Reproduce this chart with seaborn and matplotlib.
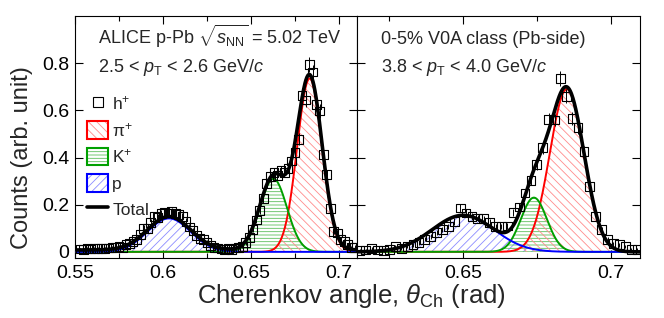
import numpy as np
import matplotlib
matplotlib.use("Agg")
import matplotlib.pyplot as plt
import seaborn as sns
from matplotlib.patches import Patch
from matplotlib.lines import Line2D
from matplotlib.ticker import MultipleLocator

# ---------------- data ----------------
left_x = [0.553, 0.555, 0.557, 0.559, 0.561, 0.563, 0.565, 0.567, 0.569, 0.571,
          0.573, 0.575, 0.577, 0.579, 0.581, 0.583, 0.585, 0.587, 0.589, 0.591,
          0.593, 0.595, 0.597, 0.599, 0.601, 0.603, 0.605, 0.607, 0.609, 0.611,
          0.613, 0.615, 0.617, 0.619, 0.621, 0.623, 0.625, 0.627, 0.629, 0.631,
          0.633, 0.635, 0.637, 0.639, 0.641, 0.643, 0.645, 0.647, 0.649, 0.651,
          0.653, 0.655, 0.657, 0.659, 0.661, 0.663, 0.665, 0.667, 0.669, 0.671,
          0.673, 0.675, 0.677, 0.679, 0.681, 0.683, 0.685, 0.687, 0.689, 0.691,
          0.693, 0.695, 0.697, 0.699, 0.701, 0.703, 0.705, 0.707, 0.709]
left_y = [0.012, 0.011, 0.013, 0.012, 0.014, 0.013, 0.015, 0.014, 0.016, 0.018,
          0.017, 0.022, 0.020, 0.030, 0.035, 0.045, 0.052, 0.072, 0.100, 0.098,
          0.125, 0.150, 0.145, 0.162, 0.168, 0.165, 0.170, 0.163, 0.158, 0.150,
          0.130, 0.105, 0.090, 0.070, 0.058, 0.052, 0.040, 0.028, 0.020, 0.016,
          0.012, 0.010, 0.014, 0.009, 0.016, 0.018, 0.024, 0.040, 0.062, 0.095,
          0.135, 0.175, 0.225, 0.290, 0.318, 0.335, 0.325, 0.345, 0.338, 0.355,
          0.385, 0.420, 0.477, 0.664, 0.644, 0.796, 0.763, 0.625, 0.597, 0.413,
          0.328, 0.183, 0.086, 0.080, 0.052, 0.044, 0.030, 0.017, 0.020]
left_err = [0.006, 0.006, 0.006, 0.006, 0.006, 0.006, 0.006, 0.006, 0.006, 0.006,
            0.006, 0.007, 0.007, 0.008, 0.008, 0.009, 0.010, 0.010, 0.012, 0.012,
            0.013, 0.014, 0.014, 0.015, 0.015, 0.015, 0.015, 0.015, 0.015, 0.014,
            0.013, 0.012, 0.011, 0.010, 0.010, 0.010, 0.009, 0.008, 0.007, 0.006,
            0.006, 0.006, 0.006, 0.006, 0.006, 0.006, 0.007, 0.009, 0.010, 0.012,
            0.013, 0.015, 0.017, 0.019, 0.020, 0.021, 0.020, 0.021, 0.021, 0.021,
            0.022, 0.023, 0.025, 0.029, 0.029, 0.032, 0.031, 0.028, 0.028, 0.023,
            0.020, 0.015, 0.011, 0.011, 0.010, 0.009, 0.008, 0.006, 0.007]

right_x = [0.615, 0.617, 0.619, 0.621, 0.623, 0.625, 0.627, 0.629, 0.631, 0.633,
           0.635, 0.637, 0.639, 0.641, 0.643, 0.645, 0.647, 0.649, 0.651, 0.653,
           0.655, 0.657, 0.659, 0.661, 0.663, 0.665, 0.667, 0.669, 0.671, 0.673,
           0.675, 0.677, 0.679, 0.681, 0.683, 0.685, 0.687, 0.689, 0.691, 0.693,
           0.695, 0.697, 0.699, 0.701, 0.703, 0.705, 0.707, 0.709]
right_y = [0.005, 0.008, 0.015, 0.008, 0.005, 0.010, 0.023, 0.015, 0.023, 0.030,
           0.040, 0.054, 0.065, 0.082, 0.095, 0.108, 0.129, 0.186, 0.165, 0.150,
           0.143, 0.140, 0.125, 0.108, 0.108, 0.110, 0.167, 0.190, 0.250, 0.302,
           0.370, 0.441, 0.562, 0.559, 0.735, 0.660, 0.565, 0.526, 0.427, 0.278,
           0.150, 0.094, 0.051, 0.034, 0.030, 0.023, 0.011, 0.011]
right_err = [0.006, 0.006, 0.006, 0.006, 0.006, 0.006, 0.007, 0.006, 0.007, 0.008,
             0.009, 0.010, 0.010, 0.011, 0.012, 0.012, 0.013, 0.015, 0.015, 0.014,
             0.014, 0.014, 0.013, 0.012, 0.012, 0.012, 0.015, 0.016, 0.018, 0.020,
             0.022, 0.024, 0.027, 0.027, 0.031, 0.029, 0.027, 0.026, 0.023, 0.019,
             0.014, 0.011, 0.010, 0.008, 0.008, 0.007, 0.006, 0.006]

# Gaussian fit parameters per species: p, K+, pi+
species = ["p", "K$^{+}$", "\u03c0$^{+}$"]
left_amp = [0.142, 0.310, 0.735]
left_mean = [0.6034, 0.6627, 0.6833]
left_sigma = [0.0122, 0.0077, 0.0071]
left_bkg = 0.008
right_amp = [0.155, 0.230, 0.690]
right_mean = [0.6500, 0.6740, 0.6852]
right_sigma = [0.0105, 0.0044, 0.0058]
right_bkg = 0.0

left_xlim = (0.5508, 0.7102)
right_xlim = (0.6140, 0.7100)
y_ticks = [0, 0.2, 0.4, 0.6, 0.8]
y_ticklabels = ["0", "0.2", "0.4", "0.6", "0.8"]
left_xticks = [0.55, 0.6, 0.65, 0.7]
left_xticklabels = ["0.55", "0.6", "0.65", "0.7"]
right_xticks = [0.65, 0.7]
right_xticklabels = ["0.65", "0.7"]

# ---------------- style ----------------
sns.set_theme(style="ticks")
plt.rcParams["font.family"] = ["Liberation Sans", "DejaVu Sans"]
plt.rcParams["mathtext.fontset"] = "custom"
plt.rcParams["mathtext.rm"] = "Liberation Sans"
plt.rcParams["mathtext.it"] = "Liberation Sans:italic"
plt.rcParams["mathtext.bf"] = "Liberation Sans:bold"
plt.rcParams["hatch.linewidth"] = 0.6

line_cols = ["#0000ff", "#00a000", "#ff0000"]
hatch_cols = ["#8c8cff", "#5cbf5c", "#ff8c8c"]
hatches = ["////", "-----", "\\\\\\\\"]

fig = plt.figure(figsize=(6.64, 3.18), dpi=100)
W, H = 664.0, 318.0
axL = fig.add_axes([75 / W, 1 - 258 / H, 282 / W, 242 / H])
axR = fig.add_axes([357 / W, 1 - 258 / H, 283 / W, 242 / H])


def gauss(x, a, m, s):
    return a * np.exp(-0.5 * ((x - m) / s) ** 2)


def draw_panel(ax, xlim, amps, means, sigmas, bkg, px, py, pe):
    xx = np.linspace(xlim[0], xlim[1], 600)
    comps = [gauss(xx, a, m, s) for a, m, s in zip(amps, means, sigmas)]
    for c, hc, h in zip(comps, hatch_cols, hatches):
        ax.fill_between(xx, 0, c, facecolor="none", edgecolor=hc, hatch=h,
                        linewidth=0, zorder=1)
    for i in [2, 1, 0]:
        sns.lineplot(x=xx, y=comps[i], ax=ax, color=line_cols[i], lw=1.4,
                     zorder=3, legend=False)
    total = comps[0] + comps[1] + comps[2] + bkg
    sns.lineplot(x=xx, y=total, ax=ax, color="black", lw=2.6, zorder=4,
                 legend=False)
    ax.errorbar(px, py, yerr=pe, fmt="none", ecolor="black", elinewidth=0.7,
                capsize=0, zorder=5)
    sns.scatterplot(x=px, y=py, ax=ax, marker="s", s=40, facecolor="none",
                    edgecolor="black", linewidth=0.8, zorder=6, legend=False)
    ax.set_xlim(*xlim)
    ax.set_ylim(-0.026, 1.0)
    ax.set_xlabel("")
    ax.set_ylabel("")
    ax.set_yticks(y_ticks)
    ax.xaxis.set_minor_locator(MultipleLocator(0.025))
    ax.tick_params(which="both", direction="in", top=True, right=True,
                   colors="black", width=0.8, labelsize=14)
    ax.tick_params(which="major", length=6)
    ax.tick_params(which="minor", length=3.5)
    ax.tick_params(axis="x", pad=5)
    ax.tick_params(axis="y", pad=4)
    for sp in ax.spines.values():
        sp.set_color("black")
        sp.set_linewidth(0.8)
        sp.set_visible(True)


draw_panel(axL, left_xlim, left_amp, left_mean, left_sigma, left_bkg,
           left_x, left_y, left_err)
draw_panel(axR, right_xlim, right_amp, right_mean, right_sigma, right_bkg,
           right_x, right_y, right_err)

axL.set_xticks(left_xticks)
axL.set_xticklabels(left_xticklabels)
axL.set_yticklabels(y_ticklabels)
axR.set_xticks(right_xticks)
axR.set_xticklabels(right_xticklabels)
axR.set_yticklabels([])
axR.xaxis.set_minor_locator(MultipleLocator(0.025))

# annotations
axL.text(0.082, 0.884, r"ALICE p-Pb $\sqrt{s_{\rm NN}}$ = 5.02 TeV",
         transform=axL.transAxes, fontsize=13, va="baseline", ha="left")
axL.text(0.082, 0.769, r"2.5 < $p_{\rm T}$ < 2.6 GeV/$c$",
         transform=axL.transAxes, fontsize=13, va="baseline", ha="left")
axR.text(0.085, 0.884, "0-5% V0A class (Pb-side)",
         transform=axR.transAxes, fontsize=13, va="baseline", ha="left")
axR.text(0.085, 0.769, r"3.8 < $p_{\rm T}$ < 4.0 GeV/$c$",
         transform=axR.transAxes, fontsize=13, va="baseline", ha="left")

# legend
handles = [Line2D([], [], marker="s", ls="none", mfc="none", mec="black",
                  ms=6.5, mew=0.8)]
labels = ["h$^{+}$"]
for i in [2, 1, 0]:
    handles.append((Patch(facecolor="white", edgecolor=hatch_cols[i],
                          hatch=hatches[i], lw=0),
                    Patch(facecolor="none", edgecolor=line_cols[i], lw=1.5)))
    labels.append(species[i])
handles.append(Line2D([], [], color="black", lw=2.6))
labels.append("Total")
axL.legend(handles, labels, loc="upper left", bbox_to_anchor=(0.0, 0.725),
           frameon=False, fontsize=12.5, handlelength=1.2, handleheight=1.2,
           handletextpad=0.25, labelspacing=0.48, borderaxespad=0.3)

fig.text(22 / W, 1 - 158 / H, "Counts (arb. unit)", rotation=90,
         fontsize=17, ha="center", va="center")
fig.text(351 / W, 1 - 296 / H, r"Cherenkov angle, $\theta_{\rm Ch}$ (rad)",
         fontsize=18.5, ha="center", va="center")

fig.savefig("out.png", dpi=100)
